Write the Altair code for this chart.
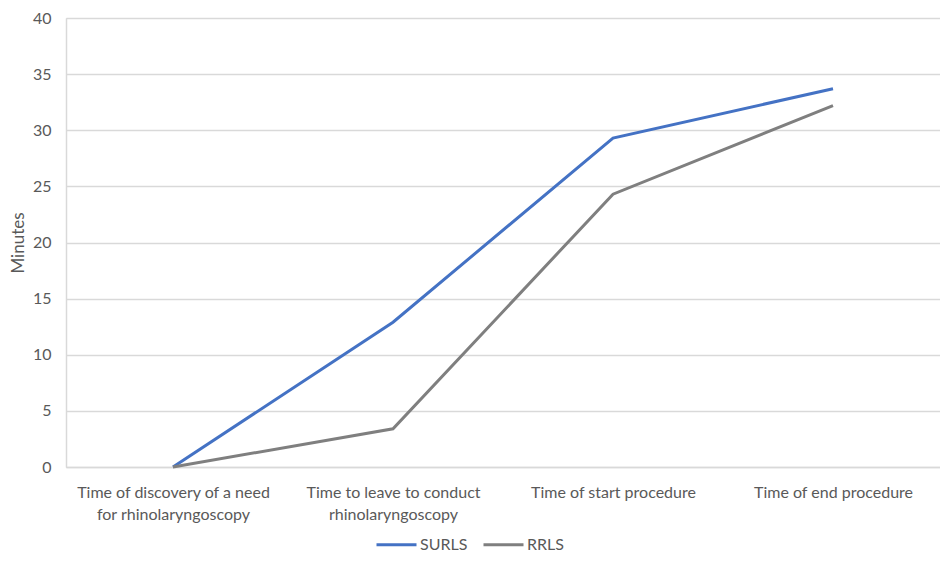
import json
import altair as alt
import pandas as pd

categories = [
    "Time of discovery of a need for rhinolaryngoscopy",
    "Time to leave to conduct rhinolaryngoscopy",
    "Time of start procedure",
    "Time of end procedure",
]
category_lines = [
    ["Time of discovery of a need", "for rhinolaryngoscopy"],
    ["Time to leave to conduct", "rhinolaryngoscopy"],
    ["Time of start procedure"],
    ["Time of end procedure"],
]
series_names = ["SURLS", "RRLS"]
surls = [0, 12.9, 29.3, 33.7]
rrls = [0, 3.4, 24.3, 32.2]
series_colors = ["#4472C4", "#7F7F7F"]
y_ticks = [0, 5, 10, 15, 20, 25, 30, 35, 40]

rows = []
for name, vals in zip(series_names, [surls, rrls]):
    for i, (c, v) in enumerate(zip(categories, vals)):
        rows.append({"category": c, "series": name, "minutes": v, "order": i})
df = pd.DataFrame(rows)

expr = "datum.label"
for c, lines in reversed(list(zip(categories, category_lines))):
    expr = f"datum.label == {json.dumps(c)} ? {json.dumps(lines)} : ({expr})"

FONT = "Lato"
TXT = "#595959"

chart = (
    alt.Chart(df)
    .mark_line(strokeWidth=3)
    .encode(
        x=alt.X(
            "category:N",
            sort=categories,
            scale=alt.Scale(type="point", padding=0.4864),
            axis=alt.Axis(
                title=None,
                labelExpr=expr,
                labelAngle=0,
                labelLimit=400,
                labelFont=FONT,
                labelFontSize=16,
                labelColor=TXT,
                labelPadding=17,
                labelLineHeight=22,
                labelBaseline="top",
                ticks=False,
                domain=True,
                domainColor="#d9d9d9",
                domainWidth=1.5,
                grid=False,
            ),
        ),
        y=alt.Y(
            "minutes:Q",
            scale=alt.Scale(domain=[0, 40], nice=False),
            axis=alt.Axis(
                title="Minutes",
                titleFont=FONT,
                titleFontSize=17,
                titleFontWeight="normal",
                titleColor=TXT,
                titlePadding=5,
                values=y_ticks,
                labelFont=FONT,
                labelFontSize=16,
                labelColor=TXT,
                labelPadding=15,
                ticks=False,
                domain=True,
                domainColor="#d9d9d9",
                domainWidth=1.5,
                grid=True,
                gridColor="#d9d9d9",
                gridWidth=1.5,
            ),
        ),
        color=alt.Color(
            "series:N",
            scale=alt.Scale(domain=series_names, range=series_colors),
            sort=series_names,
            legend=alt.Legend(
                title=None,
                orient="none",
                direction="horizontal",
                legendX=309,
                legendY=505,
                symbolType="stroke",
                symbolSize=1600,
                symbolStrokeWidth=3,
                labelFont=FONT,
                labelFontSize=16,
                labelColor=TXT,
                labelOffset=2,
                columnPadding=9,
            ),
        ),
        order="order:Q",
    )
    .properties(
        width=874,
        height=449,
        padding={"left": 58, "top": 10, "right": 0, "bottom": 86},
        autosize=alt.AutoSizeParams(type="none"),
    )
    .configure_view(stroke=None)
    .configure(background="white")
)

chart.save("out.html", embed_options={"renderer": "svg", "actions": False})
